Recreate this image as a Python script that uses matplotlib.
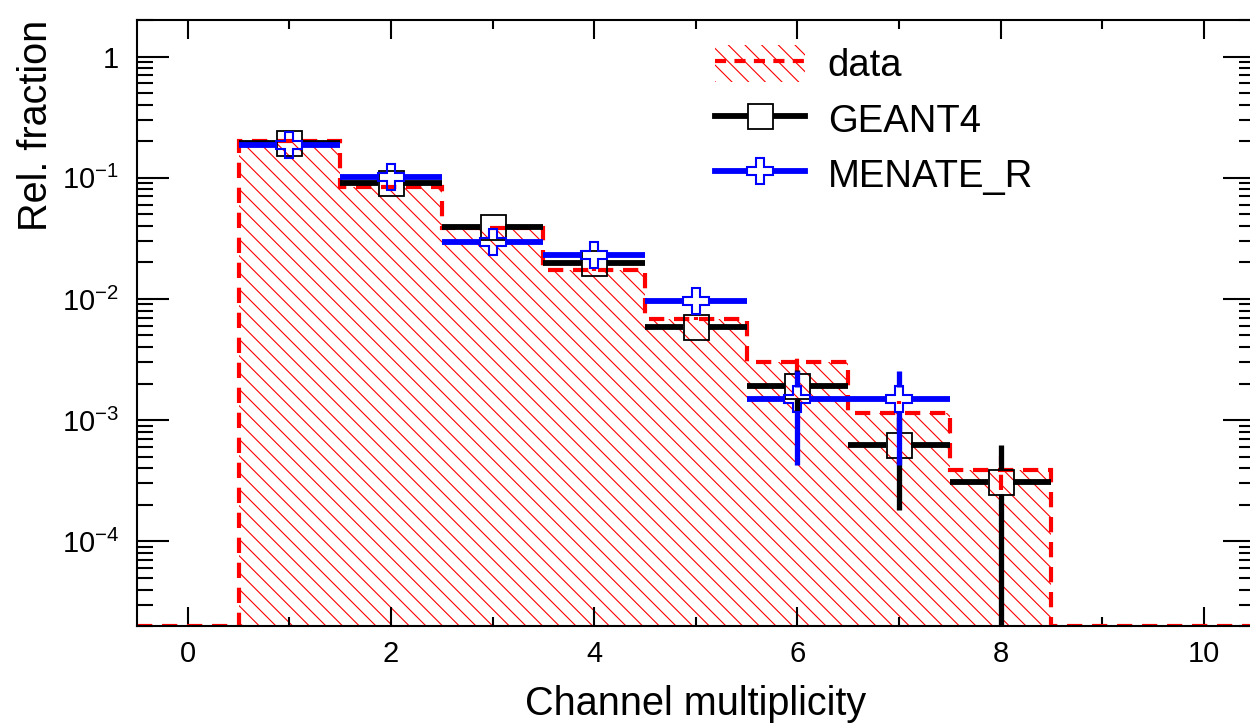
import numpy as np
import matplotlib.pyplot as plt
from matplotlib.lines import Line2D
from matplotlib.patches import Patch
from matplotlib.ticker import FixedLocator, MultipleLocator, NullFormatter

plt.rcParams['font.family'] = ['Liberation Sans', 'DejaVu Sans']
plt.rcParams['mathtext.fontset'] = 'custom'
plt.rcParams['mathtext.rm'] = 'Liberation Sans'
plt.rcParams['lines.scale_dashes'] = False
plt.rcParams['hatch.linewidth'] = 0.8

# channel multiplicity bins and relative fractions
mult = np.arange(0, 11)
data = np.array([0, 0.200, 0.0836, 0.0385, 0.0173, 0.00684, 0.00302, 0.00115, 0.000384, 0, 0])
data_err = np.array([0, 0.002, 0.001, 0.0006, 0.0003, 0.0002, 0.0006, 0.0003, 0.00012, 0, 0])

g4_x = np.arange(1, 9)
g4 = np.array([0.192, 0.090, 0.039, 0.0199, 0.0059, 0.0019, 0.00062, 0.00031])
g4_err = np.array([0.002, 0.0013, 0.0008, 0.0006, 0.0003, 0.0007, 0.00044, 0.00031])

men_x = np.arange(1, 8)
men = np.array([0.185, 0.101, 0.0295, 0.023, 0.0096, 0.00148, 0.00148])
men_err = np.array([0.002, 0.0014, 0.0007, 0.0006, 0.0004, 0.00105, 0.00105])

YMIN, YMAX = 2e-5, 2.0
DASH = (0, (11, 7))

fig = plt.figure(figsize=(12.5, 7.26), dpi=100)
ax = fig.add_axes([0.1096, 0.1377, 0.894, 0.8347])
ax.set_yscale('log')
ax.set_xlim(-0.5, 10.5)
ax.set_ylim(YMIN, YMAX)

edges = np.append(mult - 0.5, mult[-1] + 0.5)
shown = np.where(data > 0, data, YMIN)

# hatched data histogram with dashed outline
ax.fill_between(edges, YMIN, np.append(shown, shown[-1]), step='post',
                facecolor='none', edgecolor='red', hatch='\\\\', lw=0, zorder=1)
ax.stairs(shown, edges, baseline=YMIN, color='red', lw=3, ls=DASH, zorder=2)
m = data_err > 0
ax.vlines(mult[m], data[m] - data_err[m], data[m] + data_err[m],
          color='red', lw=3, ls=DASH, zorder=2)


def draw_errors(x, y, err, color, zorder):
    gx, gy = 0.123, 10 ** 0.103
    ax.hlines(np.r_[y, y], np.r_[x - 0.5, x + gx], np.r_[x - gx, x + 0.5],
              color=color, lw=4.2, zorder=zorder)
    lo = np.clip(y - err, 1e-8, None)
    hi = y + err
    k = lo < y / gy
    ax.vlines(x[k], lo[k], (y / gy)[k], color=color, lw=3.8, zorder=zorder)
    k = hi > y * gy
    ax.vlines(x[k], (y * gy)[k], hi[k], color=color, lw=3.8, zorder=zorder)


draw_errors(g4_x, g4, g4_err, 'black', 3)
ax.plot(g4_x, g4, ls='none', marker='s', ms=18, mfc='none', mec='black', mew=1.3, zorder=4)
draw_errors(men_x, men, men_err, 'blue', 5)
ax.plot(men_x, men, ls='none', marker='P', ms=19, mfc='none', mec='blue', mew=1.5, zorder=6)

# ticks on all four sides, pointing inward
ax.xaxis.set_major_locator(MultipleLocator(2))
ax.xaxis.set_minor_locator(MultipleLocator(1))
ax.yaxis.set_major_locator(FixedLocator([1e-4, 1e-3, 1e-2, 1e-1, 1]))
minors = [k * 10.0 ** e for e in range(-5, 1) for k in range(2, 10)]
ax.yaxis.set_minor_locator(FixedLocator(minors))
ax.yaxis.set_minor_formatter(NullFormatter())
ax.set_yticklabels([r'$\mathregular{10^{-4}}$', r'$\mathregular{10^{-3}}$',
                    r'$\mathregular{10^{-2}}$', r'$\mathregular{10^{-1}}$', '1'])
ax.tick_params(which='both', direction='in', top=True, right=True, width=1.5)
ax.tick_params(axis='x', which='major', length=13.7, labelsize=21, pad=10)
ax.tick_params(axis='x', which='minor', length=6.5)
ax.tick_params(axis='y', which='major', length=23, labelsize=21, pad=13)
ax.tick_params(axis='y', which='minor', length=11.5)
for s in ax.spines.values():
    s.set_linewidth(1.5)

ax.set_xlabel('Channel multiplicity', fontsize=28.5, labelpad=12)
ax.set_ylabel('Rel. fraction', fontsize=28.5, loc='top')
ax.yaxis.set_label_coords(-0.073, 1.0)

handles = [
    (Patch(facecolor='none', edgecolor='red', hatch='\\\\', lw=0),
     Line2D([], [], color='red', lw=3, ls=(0, (8, 6)))),
    Line2D([], [], color='black', lw=4.2, marker='s', ms=18, mfc='white', mec='black', mew=1.3),
    Line2D([], [], color='blue', lw=4.2, marker='P', ms=19, mfc='white', mec='blue', mew=1.5),
]
ax.legend(handles, ['data', 'GEANT4', 'MENATE_R'], loc='upper left',
          bbox_to_anchor=(715 / 1250, 1 - 45 / 726), bbox_transform=fig.transFigure,
          frameon=False, borderpad=0, borderaxespad=0, fontsize=27.5,
          handlelength=2.35, handleheight=1.1, labelspacing=0.42, handletextpad=0.6)

fig.savefig('out.png', dpi=100)
